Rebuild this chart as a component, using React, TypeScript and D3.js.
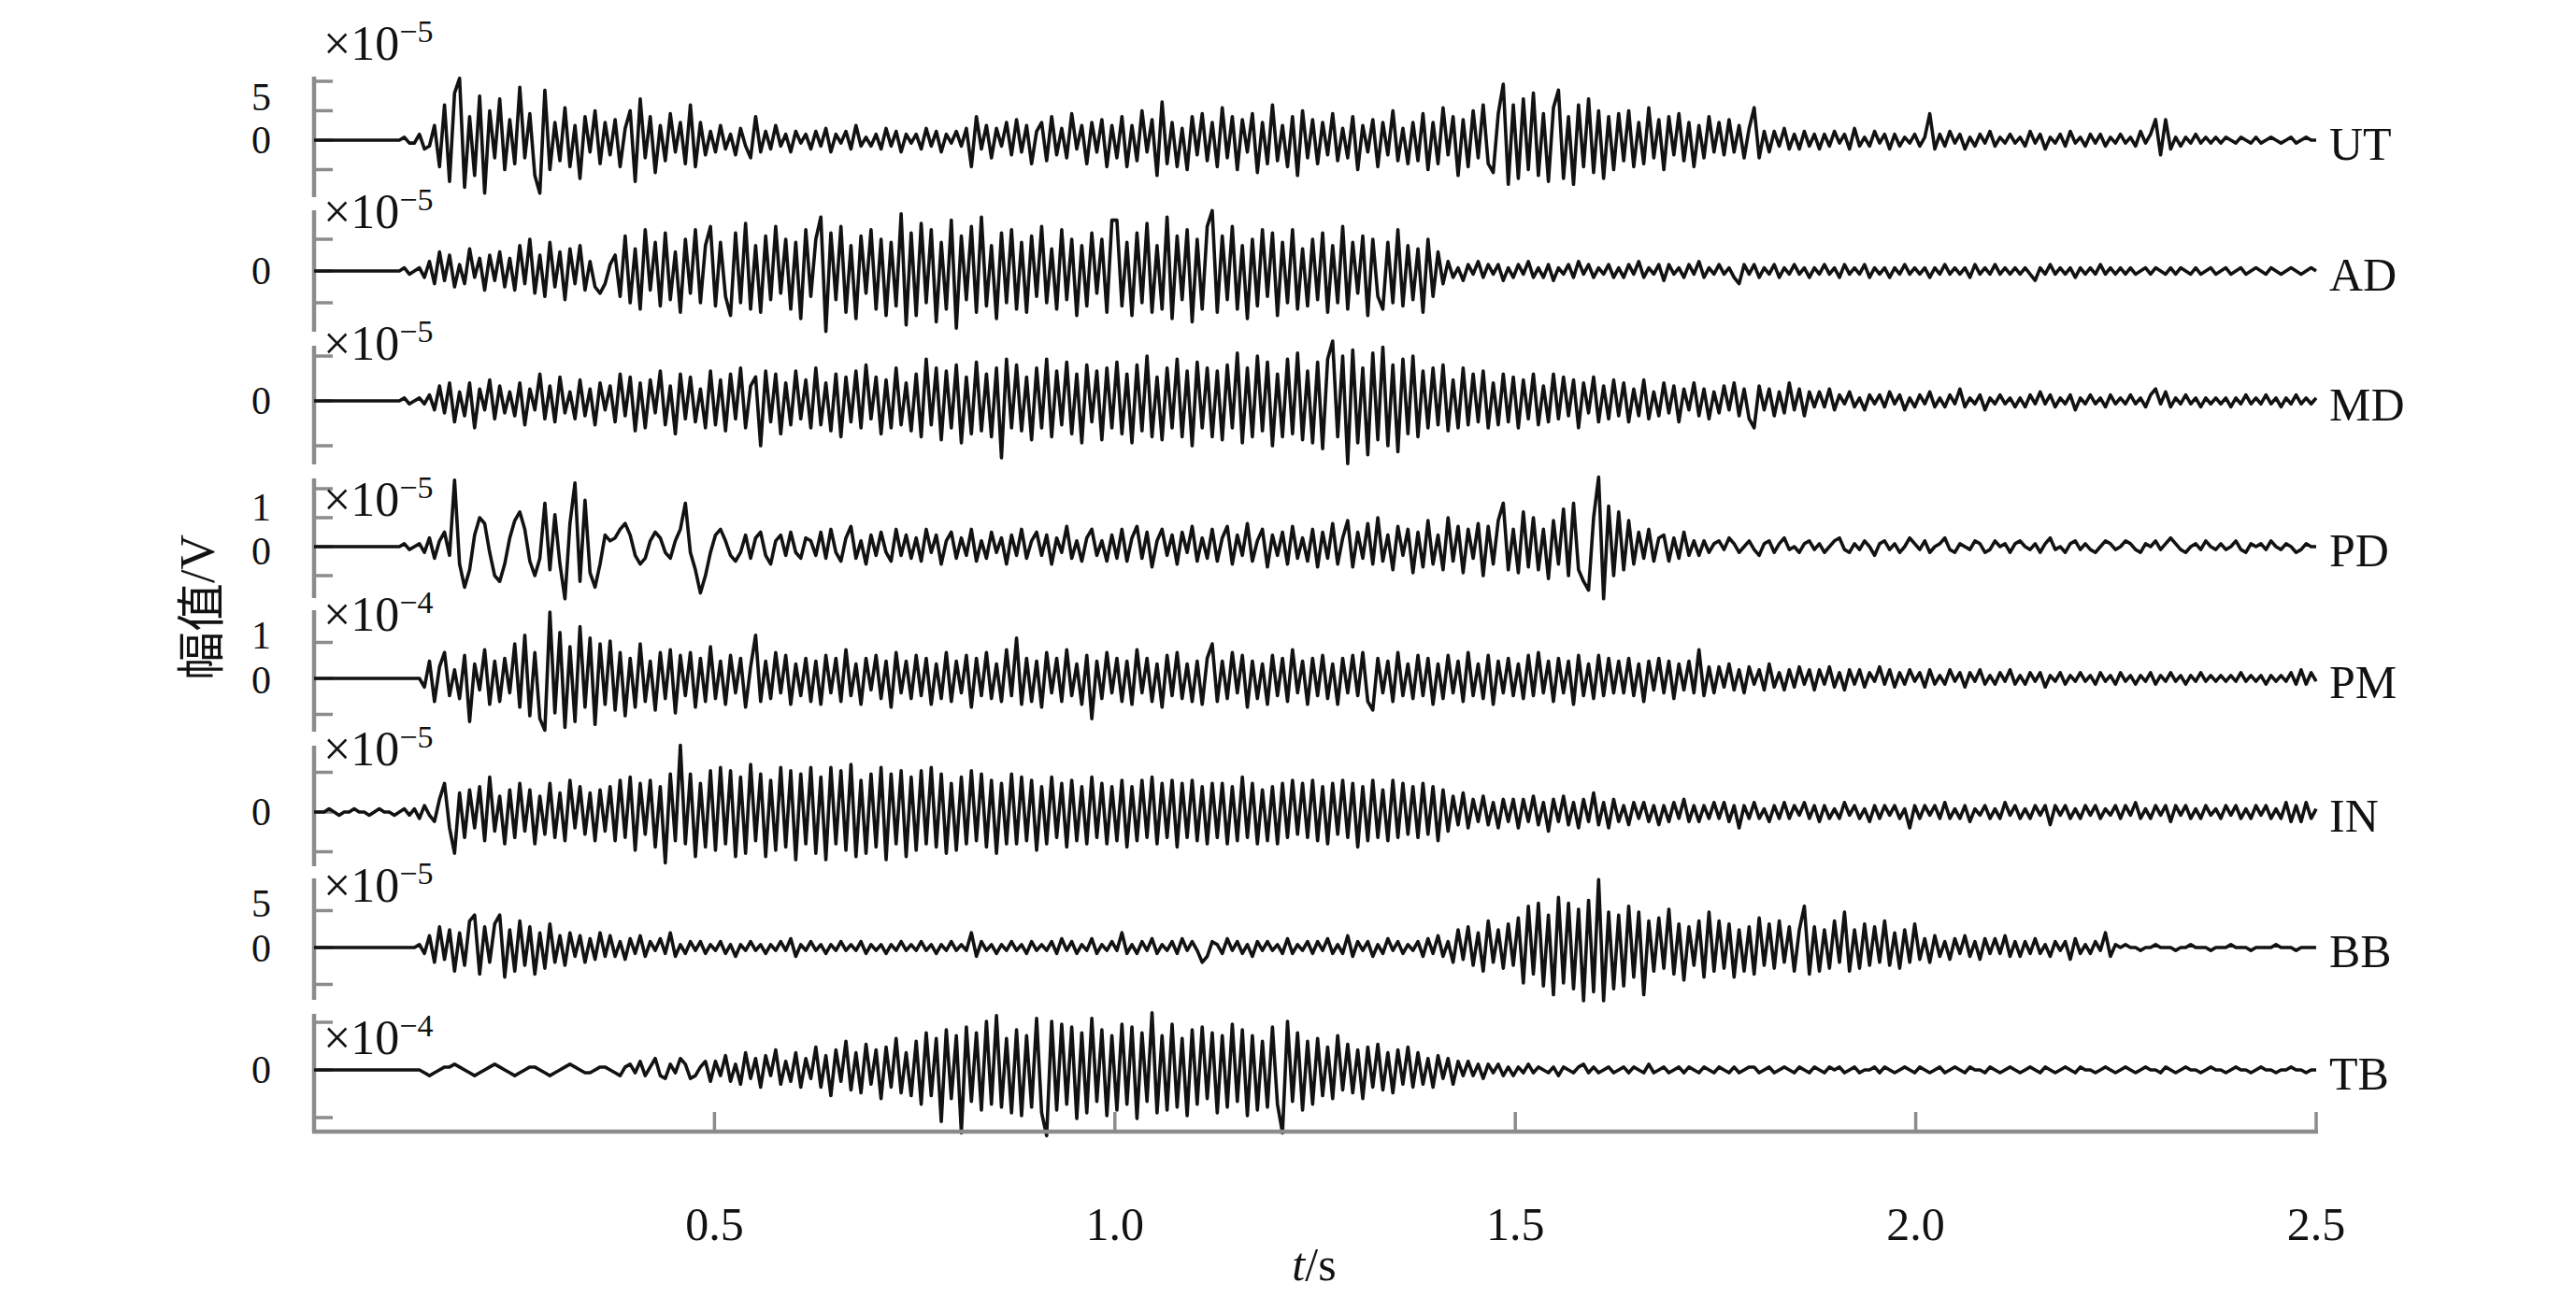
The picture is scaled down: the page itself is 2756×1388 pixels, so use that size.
import React from "react";
import * as d3 from "d3";

// ---------------- data (sampled EMG traces, integer steps of UNITS[i] ×10^EXP) ----------------
const DURATION = 2.5; // seconds

const UT = [
  0,0,0,0,0,0,0,0,0,0,0,0,0,0,0,0,0,0,1,-1,
  -1,2,-3,-2,5,-9,12,-14,16,21,-16,8,-12,15,-18,10,-6,14,-10,7,
  -8,18,-6,9,-12,-18,17,-10,6,-7,11,-9,5,-13,8,-4,10,-8,6,-5,
  7,-9,4,10,-14,14,-6,8,-11,5,-7,9,-4,6,-8,12,-9,6,-5,3,
  -4,5,-3,2,-5,4,-2,-6,8,-4,3,-3,5,-2,2,-4,3,-1,2,-3,
  3,-2,4,-4,2,-1,3,-3,5,-2,1,-2,2,-3,4,-2,3,-4,2,-1,
  2,-3,4,-2,3,-4,2,-1,3,-2,4,-9,8,-3,5,-6,4,-2,6,-5,
  7,-4,5,-8,3,6,-7,8,-5,4,-6,9,-3,5,-8,6,-4,7,-9,5,
  -6,8,-9,5,-7,10,-4,7,-12,13,-8,6,-9,4,-10,8,-5,9,-7,6,
  -9,11,-6,8,-10,7,-4,9,-11,6,-8,12,-7,5,-9,8,-12,10,-6,7,
  -8,6,-5,9,-7,4,-6,8,-10,5,-4,7,-9,6,-5,10,-7,4,-8,6,
  -7,9,-10,6,-8,11,-5,8,-12,7,-9,10,-6,12,-8,-11,9,19,-15,12,
  -13,14,-10,16,-12,9,-14,11,17,-13,8,-15,12,-9,14,-11,10,-13,8,-10,
  9,-7,10,-9,6,-8,11,-6,7,-10,8,-5,9,-7,6,-9,5,-6,8,-4,
  6,-5,7,-4,5,-6,4,11,-6,3,-4,3,-2,4,-3,2,-3,3,-2,2,
  -3,2,-2,3,-1,2,-3,4,-2,1,-2,3,-1,2,-3,2,-2,1,-1,2,
  -2,1,9,-3,2,-2,3,-1,2,-3,1,-2,2,-1,3,-2,1,-1,2,-1,
  1,-2,3,-1,2,-3,1,-1,2,-2,3,-1,1,-2,2,-1,2,-2,1,-1,
  2,-1,1,-2,3,-1,2,7,-5,7,-3,1,-2,1,-1,2,-1,1,-1,1,
  -1,1,0,-1,1,0,-1,1,-1,0,1,0,-1,0,1,-1,0,1,0,0,
];

const AD = [
  0,0,0,0,0,0,0,0,0,0,0,0,0,0,0,0,0,0,1,-1,
  0,1,-2,3,-4,6,-3,5,-5,2,-4,7,-2,4,-6,5,-3,6,-5,4,
  -6,8,-4,10,-7,5,-8,9,-5,6,-9,7,-4,8,-6,3,-5,-7,-4,2,
  5,-8,11,-10,7,-12,13,-6,9,-11,12,-9,6,-13,10,-7,13,-10,8,14,
  -11,9,-8,-14,12,-10,15,-12,8,-13,11,-9,14,-7,10,-12,9,-15,13,-8,
  10,17,-19,12,-9,14,-13,8,-15,11,-7,13,-12,10,-14,9,-11,18,-17,12,
  -14,15,-10,13,-16,9,-12,16,-18,11,-9,14,-13,17,-11,8,-15,12,-10,13,
  -12,9,-13,11,-8,14,-10,7,-12,13,-9,10,-14,8,-11,12,-7,10,-13,16,
  16,-11,9,-14,12,-10,15,-13,8,-12,17,-15,11,-9,13,-16,10,-12,14,19,
  -13,11,-9,14,-12,8,-15,10,-11,13,-8,12,-14,9,-10,13,-12,7,-11,10,
  -9,12,-13,8,-10,14,-12,9,-7,11,-14,10,-8,-12,9,-10,13,-11,8,-9,
  7,-13,10,-8,6,-4,3,-2,1,-3,2,-1,3,-2,2,-1,2,-3,1,-2,
  2,-1,3,-2,1,-2,2,-3,1,-1,2,-2,3,-1,2,-2,1,-1,2,-2,
  1,-2,2,-1,3,-2,1,-1,2,-3,2,-1,1,-2,2,-1,3,-2,1,-1,
  2,-1,1,-2,-4,2,-1,2,-2,1,-1,2,-2,1,-1,2,-1,1,-2,1,
  -1,2,-1,1,-2,2,-1,1,-1,2,-2,1,-1,1,-2,1,-1,2,-1,1,
  -1,1,-2,1,-1,2,-1,1,-1,1,-2,2,-1,1,-1,2,-1,1,-1,1,
  -1,1,-1,-3,1,-1,2,-1,1,-1,1,-2,1,-1,1,-1,2,-1,1,-1,
  1,-1,1,-1,0,1,-1,1,0,-1,1,-1,1,0,-1,1,-1,0,1,-1,
  0,1,-1,0,1,-1,0,1,0,-1,1,0,-1,0,1,0,-1,0,1,0,
];

const MD = [
  0,0,0,0,0,0,0,0,0,0,0,0,0,0,0,0,0,0,1,-1,
  0,1,-1,2,-3,5,-4,6,-7,3,-5,6,-9,4,-3,7,-6,5,-4,3,
  -5,6,-8,4,-3,9,-6,5,-7,8,-4,3,-6,7,-5,4,-8,6,-3,5,
  -7,9,-5,8,-10,6,-9,7,-4,10,-8,5,-11,9,-6,8,-7,4,-9,10,
  -8,7,-10,9,-6,11,-9,5,8,-15,10,-7,9,-11,6,-8,10,-6,7,-9,
  11,-8,6,-10,9,-12,8,-7,10,-9,12,-6,8,-11,7,-9,11,-8,6,-10,
  9,-12,14,-8,11,-13,10,-9,12,-14,8,-11,13,-10,9,-12,11,-19,14,-9,
  12,-10,8,-13,11,-9,14,-12,10,-8,13,-11,9,-14,12,-7,10,-13,11,-9,
  13,-11,9,-14,12,-10,15,-12,8,-13,11,-9,14,-12,10,-15,13,-9,11,-12,
  10,-13,12,-9,16,-14,11,-12,15,-10,13,-15,9,-12,14,-11,16,-13,10,-14,
  13,-16,14,20,-12,15,-21,17,-14,11,-18,16,-13,18,-15,12,-17,14,-11,15,
  -12,10,-9,11,-8,12,-10,7,-9,11,-8,9,-7,10,-9,6,-8,9,-7,8,
  -9,7,-6,9,-8,5,-7,9,-6,8,-5,7,-9,6,-4,8,-7,5,-6,7,
  -5,6,-7,4,-5,7,-6,3,-5,6,-4,5,-7,4,-3,6,-5,4,-6,3,
  -4,5,-3,6,-5,4,-6,-9,5,-3,4,-5,3,-4,6,-3,4,-5,3,-2,
  3,-2,4,-3,2,-1,3,-2,1,-3,2,-1,2,-2,3,-1,2,-3,1,-2,
  2,-1,3,-2,1,-2,2,-1,4,-2,1,-1,2,-3,1,-1,2,-1,1,-2,
  1,-2,2,-1,3,-1,2,-2,1,-1,2,-3,1,-1,2,-1,1,-2,2,-1,
  1,-1,2,-1,1,-2,2,4,-1,3,-2,1,-1,2,-1,1,-2,1,-1,1,
  -1,1,-2,1,-1,2,-1,1,-1,2,-1,1,-2,1,-1,2,-1,1,-1,1,
];

const PD = [
  0,0,0,0,0,0,0,0,0,0,0,0,0,0,0,0,0,0,1,-1,
  0,1,-2,3,-4,2,5,-3,23,-6,-14,-8,4,10,8,-2,-10,-12,-6,3,
  9,12,6,-5,-10,-4,15,-8,11,-6,-18,8,22,-12,16,-9,-14,-6,4,2,
  3,6,8,4,-3,-6,-4,2,5,3,-2,-4,2,6,15,-2,-8,-16,-10,-2,
  4,6,2,-3,-5,-2,4,-4,3,5,-3,-6,2,4,-3,5,-2,-4,3,2,
  -3,5,-4,6,-2,-5,3,7,-4,2,-6,4,-3,5,-2,-5,6,-3,4,-4,
  3,-5,6,-2,4,-6,2,5,-4,3,-3,6,-5,2,-4,5,-2,3,-6,4,
  -3,6,-4,2,5,-3,4,-6,3,-2,7,-4,2,-5,3,6,-3,2,-5,4,
  -4,6,-5,3,7,-4,5,-7,2,6,-3,4,-6,5,-2,7,-5,3,-4,6,
  -5,3,7,-6,4,-3,8,-5,2,6,-7,4,-3,5,-6,7,-4,3,-5,6,
  -7,5,-4,8,-6,3,9,-7,5,-4,8,-6,10,-5,4,-8,7,-3,6,-9,
  5,-7,9,-6,4,-8,10,-5,7,-9,6,-4,8,-10,7,-6,9,15,-8,6,
  -9,12,-7,10,-8,6,-11,9,-6,13,-10,15,-8,-12,-15,10,24,-18,14,-10,
  12,-8,9,-6,5,-4,6,-5,3,4,-5,3,-4,5,-3,2,-3,2,-2,1,
  2,-1,3,1,-2,0,2,-1,-3,1,2,-2,1,3,-1,0,-2,1,2,-1,
  1,-2,0,2,3,-1,-2,1,-1,2,0,-3,1,2,-1,1,-2,0,3,1,
  -1,2,-2,0,1,3,-1,-2,1,0,-1,2,1,-2,-1,2,0,1,-2,1,
  2,0,-1,1,-2,1,3,-1,0,-2,1,2,-1,1,-1,-2,0,2,1,-1,
  0,2,1,-1,-2,1,0,2,-1,1,3,1,-1,-2,0,1,-1,2,0,-1,
  1,-1,0,2,-1,-2,1,0,1,-1,2,0,-1,1,0,-2,-1,1,0,0,
];

const PM = [
  0,0,0,0,0,0,0,0,0,0,0,0,0,0,0,0,0,0,0,0,
  0,0,-3,6,-8,4,9,-6,3,-7,8,-15,5,-4,10,-9,6,-8,7,-5,
  12,-10,15,-13,9,-14,-18,23,-12,16,-17,11,-15,18,-10,14,-16,12,-9,13,
  -11,9,-13,7,-10,12,-8,6,-11,9,-7,10,-12,8,-6,9,-10,7,-8,11,
  -7,6,-9,8,-5,7,-10,4,15,-8,6,-7,9,-5,8,-9,5,-6,7,-8,
  6,-9,8,-5,7,-8,10,-6,5,-9,7,-4,8,-7,6,-10,9,-5,6,-7,
  8,-6,7,-9,5,-7,9,-8,6,-5,8,-10,7,-6,9,-7,5,-8,10,-6,
  14,-9,7,-8,6,-10,9,-5,7,-8,10,-6,5,-9,8,-14,6,-7,9,-5,
  7,-8,6,-9,10,-5,7,-8,5,-10,8,-6,9,-7,5,-8,6,-9,7,12,
  -8,6,-7,9,-5,8,-10,6,-7,5,-9,8,-6,7,-8,10,-5,6,-9,7,
  -6,8,-7,5,-9,7,-5,8,-6,9,-8,-11,7,-5,6,-8,9,-6,5,-7,
  8,-6,7,-9,5,-7,8,-5,6,-8,9,-6,5,-7,8,-9,6,-5,7,-6,
  5,-7,8,-6,9,-5,6,-8,7,-5,6,-9,8,-6,5,-7,8,-6,7,-5,
  6,-5,7,-6,5,-8,6,-4,7,-5,6,-7,5,-4,6,-5,10,-6,4,-5,
  4,-3,5,-4,3,-5,4,-2,3,-4,5,-3,2,-4,3,-3,4,-2,3,-4,
  3,-2,4,-3,2,-4,3,-2,3,-3,2,-1,4,-2,3,-3,2,-2,3,-1,
  2,-3,3,-2,1,-2,3,-1,2,-3,2,-1,3,-2,1,-2,2,-1,3,-2,
  1,-2,2,-1,2,-3,1,-1,2,-2,1,-1,2,-1,1,-2,2,-1,1,-2,
  2,-1,1,-2,1,-1,2,-2,1,-1,2,-1,1,-2,1,-1,2,-1,1,-1,
  1,-1,1,-1,2,-1,1,-1,1,-2,1,-1,1,-1,2,-2,3,-2,2,-1,
];

const IN = [
  0,0,0,1,0,-1,0,0,1,0,0,-1,0,1,0,0,-1,0,1,-1,
  1,-2,2,-1,-3,4,9,-5,-13,6,-8,7,-5,8,-9,11,-6,5,-10,7,
  -8,9,-6,7,-10,5,-7,9,-8,6,-9,10,-5,8,-7,6,-9,7,-6,8,
  -9,10,-8,11,-12,9,-7,10,-11,8,-16,12,-9,21,-10,12,-14,9,-11,13,
  -12,14,-10,13,-14,11,-13,15,-9,12,-14,10,-12,14,-11,13,-15,12,-10,14,
  -13,11,-15,14,-10,13,-12,15,-14,10,-13,12,-11,14,-15,12,-10,13,-14,11,
  -12,13,-10,14,-11,12,-13,9,-12,11,-10,13,-9,12,-11,10,-13,9,-10,12,
  -10,11,-9,10,-12,8,-10,11,-8,9,-11,10,-9,8,-10,11,-8,9,-10,8,
  -9,10,-11,8,-9,10,-8,11,-10,9,-8,10,-11,9,-8,10,-9,8,-10,9,
  -8,9,-10,8,-9,11,-8,9,-10,7,-9,8,-10,9,-8,10,-7,9,-8,10,
  -9,8,-10,9,-7,10,-8,9,-11,8,-9,10,-8,7,-9,10,-8,9,-7,8,
  -8,9,-7,8,-9,7,-6,5,-4,6,-5,4,-3,5,-4,3,-5,4,-3,4,
  -5,4,-3,5,-4,3,-6,4,-3,5,-4,3,-5,4,-3,6,-4,3,-5,4,
  -3,2,-4,3,-2,3,-3,2,-4,2,-3,3,-2,4,-3,2,-3,2,-2,3,
  -2,3,-3,2,-5,2,-2,3,-2,1,-3,2,-2,3,-2,2,-1,3,-2,2,
  -3,2,-2,1,-2,3,-1,2,-2,1,-3,2,-2,2,-1,2,-2,1,-5,2,
  -2,2,-1,2,-2,3,-2,1,-2,2,-3,1,-1,2,-2,1,-2,3,-1,2,
  -2,1,-2,2,-1,2,-4,2,-1,2,-2,1,-2,2,-1,2,-2,1,-1,2,
  -2,2,-1,3,-2,1,-2,2,-1,2,-3,2,-1,2,-2,1,-2,2,-1,1,
  -2,2,-1,2,-2,1,-2,2,-1,2,-2,1,-2,3,-3,2,-3,3,-2,1,
];

const BB = [
  0,0,0,0,0,0,0,0,0,0,0,0,0,0,0,0,0,0,0,0,
  0,1,-2,4,-5,7,-4,6,-8,5,-6,9,11,-9,7,-5,8,11,-10,6,
  -8,9,-6,7,-9,5,-7,8,-5,4,-6,5,-3,4,-5,3,-4,5,-3,4,
  -3,2,-4,3,-2,4,-3,2,-1,3,-2,5,-3,1,-2,2,-1,2,-2,1,
  -1,2,-2,1,-3,1,-1,2,-1,1,-2,1,-1,2,-1,3,-3,1,-1,2,
  -1,1,-2,1,-1,2,-1,1,-1,2,-2,1,-1,1,-2,1,-1,2,-1,1,
  -1,2,-1,1,-2,1,-1,2,-1,1,-1,5,-3,2,-1,1,-2,1,-1,2,
  -1,1,-2,2,-1,1,-1,2,-2,3,-1,2,-2,1,-1,3,-2,1,-1,2,
  -1,5,-2,1,-2,2,-1,3,-2,1,-1,2,-2,3,-1,2,-1,-5,-3,2,
  1,-2,3,-1,2,-2,1,-3,2,-1,2,-1,1,-2,3,-2,1,-1,2,-2,
  2,-1,3,-2,1,-2,4,-3,2,-1,2,-3,1,-2,3,-1,2,-2,1,-1,
  2,-3,3,-2,4,-3,2,-5,6,-4,7,-6,5,-8,9,-5,6,-7,8,-6,
  10,-12,14,-9,15,-13,11,-16,17,-12,15,-14,13,-18,16,-15,23,-18,12,-14,
  11,-13,14,-10,12,-16,9,-8,10,-7,13,-9,8,-11,7,-6,9,-10,12,-8,
  9,-7,8,-10,6,-8,7,-9,10,-6,8,-7,9,-5,7,-8,6,14,-9,7,
  -8,6,-7,9,-5,12,-8,6,-7,8,-6,7,-5,9,-6,5,-7,6,-5,8,
  -4,3,-5,4,-3,2,-4,3,-2,4,-3,2,-4,3,-2,3,-2,4,-3,2,
  -3,2,-2,3,-2,1,-3,2,-1,2,-4,3,-2,1,-2,2,-1,5,-3,1,
  0,1,0,0,-1,0,0,1,0,0,0,-1,0,0,1,0,0,0,-1,0,
  0,0,1,0,0,0,-1,0,0,0,0,1,0,0,0,-1,0,0,0,0,
];

const TB = [
  0,0,0,0,0,0,0,0,0,0,0,0,0,0,0,0,0,0,0,0,
  0,0,-1,-2,-1,0,1,1,2,1,0,-1,-2,-1,0,1,2,1,0,-1,
  -2,-1,0,1,1,0,-1,-2,-1,0,1,2,1,0,-1,-1,0,1,1,0,
  -1,-2,1,2,-1,3,-2,1,4,-2,-3,2,-1,4,2,-3,-2,1,3,-4,
  3,-2,5,-4,2,-5,6,-3,4,-6,5,-2,7,-5,3,-4,6,-6,4,-3,
  8,-6,5,-9,7,-4,10,-7,6,-8,9,-5,7,-10,8,-6,11,-8,6,-9,
  10,-12,13,-9,11,-18,14,-10,12,-22,15,-11,13,-14,17,-12,19,-13,11,-15,
  14,-16,12,-13,18,-15,-23,17,-14,16,-12,15,-17,13,-15,18,-11,14,-16,12,
  -14,16,-12,15,-17,13,-11,20,-15,12,-14,16,-13,11,-16,14,-12,15,-10,13,
  -15,12,-13,16,-11,14,-16,12,-14,10,-13,15,-12,-22,17,-11,13,-14,10,-12,
  11,-9,8,-10,12,-7,9,-8,7,-10,8,-6,9,-7,6,-8,7,-5,8,-6,
  6,-5,4,-6,5,-3,4,-5,3,-2,3,-2,2,-3,2,-1,2,-2,1,-2,
  1,-1,2,-1,1,0,-1,1,-2,1,0,-1,1,2,-1,1,-1,0,1,-1,
  0,1,-1,1,0,-1,2,-1,0,1,-1,0,1,-1,1,0,-1,1,0,-1,
  1,0,-1,1,-1,0,1,1,-1,0,1,-1,0,1,0,-1,1,0,-1,1,
  0,-1,1,0,1,-1,0,1,-1,0,0,1,-1,1,0,-1,0,1,0,-1,
  1,0,-1,0,1,-1,0,1,0,-1,1,0,0,-1,1,0,-1,0,1,0,
  -1,0,1,0,-1,1,0,-1,0,1,0,-1,1,0,0,-1,0,1,0,-1,
  0,1,0,-1,0,1,0,0,-1,1,0,-1,0,1,0,0,-1,0,1,0,
  0,-1,0,1,0,0,-1,0,1,0,0,-1,0,0,1,0,0,-1,0,0,
];

const CHANNELS = ["UT", "AD", "MD", "PD", "PM", "IN", "BB", "TB"];
const SERIES = [UT, AD, MD, PD, PM, IN, BB, TB];
const EXPONENTS = [-5, -5, -5, -5, -4, -5, -5, -4];
const UNITS = [0.5, 0.5, 1 / 3, 0.1, 0.08, 0.4, 0.4, 0.06];
const Y_DOMAINS = [
  [-9.68, 10.79], [-9.56, 9.56], [-7.08, 6.15], [-1.774, 2.355],
  [-1.48, 1.896], [-6.82, 8.35], [-7.09, 9.37], [-1.294, 1.176],
];
const Y_TICKS = [[-5, 0, 5, 10], [-5, 0, 5], [-5, 0, 5], [-1, 0, 1, 2], [-1, 0, 1], [-5, 0, 5], [-5, 0, 5], [-1, 0, 1]];
const Y_TICK_LABELS = [[5, 0], [0], [0], [1, 0], [1, 0], [0], [5, 0], [0]];
const X_TICKS = [0.5, 1.0, 1.5, 2.0, 2.5];

// ---------------- layout ----------------
const W = 2756;
const H = 1388;
const X0 = 336;
const X1 = 2478;
const PANEL_PX = [[82, 211], [225, 355], [370, 497], [512, 640], [653, 783], [798, 927], [940, 1070], [1085, 1211]];
const EXP_BASELINE = [64, 244, 385, 552, 675, 819, 965, 1128];
const LABEL_DY = [[-15, 0], [0], [0], [-11, 5], [-8, 2], [0], [-8, 1], [0]];
const AXIS_Y = 1211;
const AXIS_COLOR = "#8c8c8c";
const INK = "#121212";
const SERIF = "'Liberation Serif', 'Times New Roman', serif";
const TICK_FONT = 42;

export default function App() {
  const x = d3.scaleLinear().domain([0, DURATION]).range([X0, X1]);

  return (
    <svg
      width={W}
      height={H}
      viewBox={`0 0 ${W} ${H}`}
      style={{ position: "absolute", left: 0, top: 0, background: "#fff" }}
    >
      <rect x={0} y={0} width={W} height={H} fill="#fff" />
      {SERIES.map((data, i) => {
        const [pTop, pBot] = PANEL_PX[i];
        const y = d3.scaleLinear().domain(Y_DOMAINS[i]).range([pBot, pTop]);
        const dt = DURATION / (data.length - 1);
        const line = d3
          .line<number>()
          .x((_, k) => x(k * dt))
          .y((v) => y(v * UNITS[i]));
        return (
          <g key={CHANNELS[i]}>
            {/* y axis segment */}
            <line x1={X0} x2={X0} y1={pTop} y2={pBot} stroke={AXIS_COLOR} strokeWidth={4.5} />
            {Y_TICKS[i].map((t) => (
              <line key={t} x1={X0} x2={X0 + 20} y1={y(t)} y2={y(t)} stroke={AXIS_COLOR} strokeWidth={3.5} />
            ))}
            {/* stacked tick labels of this panel in one text block */}
            <text textAnchor="end" fontFamily={SERIF} fontSize={TICK_FONT} fill={INK}>
              {Y_TICK_LABELS[i].map((t, j) => (
                <tspan key={t} x={290} y={y(t) + (LABEL_DY[i][j] || 0) + TICK_FONT * 0.34}>
                  {t}
                </tspan>
              ))}
            </text>
            {/* trace */}
            <path d={line(data) || ""} fill="none" stroke={INK} strokeWidth={3.6} strokeLinejoin="round" />
            {/* exponent */}
            <text x={346} y={EXP_BASELINE[i]} fontFamily={SERIF} fontSize={52} fill={INK}>
              ×10
              <tspan dy={-19} fontSize={34}>
                {"\u2212" + Math.abs(EXPONENTS[i])}
              </tspan>
            </text>
            {/* channel name */}
            <text
              x={2492}
              y={y(0) + 4}
              dominantBaseline="central"
              fontFamily={SERIF}
              fontSize={50}
              fill={INK}
            >
              {CHANNELS[i]}
            </text>
          </g>
        );
      })}

      {/* x axis */}
      <line x1={X0 - 2} x2={X1 + 2} y1={AXIS_Y} y2={AXIS_Y} stroke={AXIS_COLOR} strokeWidth={4.5} />
      {X_TICKS.map((t) => (
        <g key={t}>
          <line x1={x(t)} x2={x(t)} y1={AXIS_Y} y2={AXIS_Y - 21} stroke={AXIS_COLOR} strokeWidth={3.5} />
          <text
            x={x(t)}
            y={1310}
            textAnchor="middle"
            dominantBaseline="central"
            fontFamily={SERIF}
            fontSize={50}
            fill={INK}
          >
            {t.toFixed(1)}
          </text>
        </g>
      ))}
      <text x={1406} y={1353} textAnchor="middle" dominantBaseline="central" fontFamily={SERIF} fontSize={50} fill={INK}>
        <tspan fontStyle="italic">t</tspan>/s
      </text>
      <text
        transform="translate(211,650) rotate(-90)"
        textAnchor="middle"
        dominantBaseline="central"
        fontSize={52}
        fill={INK}
      >
        <tspan fontFamily="'Noto Sans CJK SC', sans-serif">幅值</tspan>
        <tspan fontFamily={SERIF}>/V</tspan>
      </text>
    </svg>
  );
}
